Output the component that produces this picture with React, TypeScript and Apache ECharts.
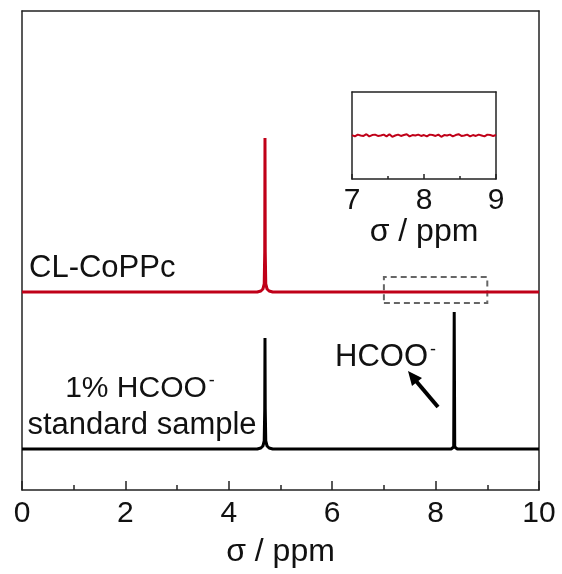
import React, { useEffect, useRef } from "react";
import * as echarts from "echarts";

// ---- data ----
// main spectra: chemical shift (ppm) and intensity (a.u., relative to own baseline)
const redShift = [0, 4.55, 4.62, 4.66, 4.685, 4.695, 4.7, 4.705, 4.715, 4.74, 4.78, 4.85, 10];
const redIntensity = [0, 0, 1, 3, 8, 40, 154, 40, 8, 3, 1, 0, 0];
const blackShift = [0, 4.55, 4.62, 4.66, 4.685, 4.695, 4.7, 4.705, 4.715, 4.74, 4.78, 4.85, 8.3, 8.35, 8.36, 8.37, 8.42, 10];
const blackIntensity = [0, 0, 1, 3, 8, 40, 111, 40, 8, 3, 1, 0, 0, 2, 137, 2, 0, 0];
const redOffset = 157;
const blackOffset = 0;
// inset (7-9 ppm) of red spectrum
const insetShift = [7.0, 7.04, 7.08, 7.12, 7.16, 7.2, 7.24, 7.28, 7.32, 7.36, 7.4, 7.44, 7.48, 7.52, 7.56, 7.6, 7.64, 7.68, 7.72, 7.76, 7.8, 7.84, 7.88, 7.92, 7.96, 8.0, 8.04, 8.08, 8.12, 8.16, 8.2, 8.24, 8.28, 8.32, 8.36, 8.4, 8.44, 8.48, 8.52, 8.56, 8.6, 8.64, 8.68, 8.72, 8.76, 8.8, 8.84, 8.88, 8.92, 8.96, 9.0];
const insetNoise = [0.01, -0.02, 0.02, 0.0, -0.01, 0.03, -0.02, 0.01, 0.02, -0.01, 0.0, 0.02, -0.02, 0.03, -0.03, 0.0, 0.02, -0.01, 0.01, 0.03, -0.02, 0.01, 0.0, 0.02, -0.01, 0.01, -0.02, 0.02, 0.01, -0.01, 0.02, -0.03, 0.01, 0.0, 0.02, -0.02, 0.01, 0.03, -0.01, 0.0, 0.02, -0.02, 0.01, -0.01, 0.02, 0.0, -0.02, 0.02, 0.01, -0.01, 0.01];
const mainTicks = { min: 0, max: 10, interval: 2 };
const insetTicks = { min: 7, max: 9, interval: 1 };
const axisTitle = "σ / ppm";

const FONT = "'Liberation Sans', Arial, sans-serif";
const RED = "#c00018";
const AX = "#222";

export default function App() {
  const ref = useRef<HTMLDivElement>(null);
  useEffect(() => {
    if (!ref.current) return;
    const chart = echarts.init(ref.current, null, { renderer: "svg" });
    const redData = redShift.map((x, i) => [x, redIntensity[i] + redOffset]);
    const blackData = blackShift.map((x, i) => [x, blackIntensity[i] + blackOffset]);
    const insetData = insetShift.map((x, i) => [x, insetNoise[i]]);
    const axLine = { show: true, onZero: false, lineStyle: { color: AX, width: 1.5 } };
    const hidden = {
      axisTick: { show: false },
      axisLabel: { show: false },
      splitLine: { show: false },
    };
    const option: any = {
      animation: false,
      grid: [
        { left: 22, right: 23, top: 11, bottom: 84 },
        { left: 352, top: 92, width: 144, height: 87 },
      ],
      xAxis: [
        {
          gridIndex: 0,
          type: "value",
          ...mainTicks,
          position: "bottom",
          axisLine: axLine,
          axisTick: { inside: true, length: 9, lineStyle: { color: AX, width: 1.5 } },
          minorTick: { show: true, splitNumber: 2, length: 5, lineStyle: { color: AX, width: 1.5 } },
          splitLine: { show: false },
          minorSplitLine: { show: false },
          axisLabel: { fontSize: 30, color: "#111", margin: 6, fontFamily: FONT },
          name: axisTitle,
          nameLocation: "middle",
          nameGap: 44,
          nameTextStyle: { fontSize: 32, color: "#111", fontFamily: FONT },
        },
        { gridIndex: 0, type: "value", ...mainTicks, position: "top", axisLine: axLine, ...hidden },
        {
          gridIndex: 1,
          type: "value",
          ...insetTicks,
          position: "bottom",
          axisLine: axLine,
          axisTick: { inside: true, length: 5, lineStyle: { color: AX, width: 1.5 } },
          minorTick: { show: true, splitNumber: 2, length: 3, lineStyle: { color: AX, width: 1.5 } },
          splitLine: { show: false },
          minorSplitLine: { show: false },
          axisLabel: { fontSize: 30, color: "#111", margin: 4, fontFamily: FONT },
          name: axisTitle,
          nameLocation: "middle",
          nameGap: 34,
          nameTextStyle: { fontSize: 32, color: "#111", fontFamily: FONT },
        },
        { gridIndex: 1, type: "value", ...insetTicks, position: "top", axisLine: axLine, ...hidden },
      ],
      yAxis: [
        { gridIndex: 0, type: "value", min: -41, max: 438, position: "left", axisLine: axLine, ...hidden },
        { gridIndex: 0, type: "value", min: -41, max: 438, position: "right", axisLine: axLine, ...hidden },
        { gridIndex: 1, type: "value", min: -1, max: 1, position: "left", axisLine: axLine, ...hidden },
        { gridIndex: 1, type: "value", min: -1, max: 1, position: "right", axisLine: axLine, ...hidden },
      ],
      series: [
        {
          type: "line",
          xAxisIndex: 0,
          yAxisIndex: 0,
          data: redData,
          showSymbol: false,
          lineStyle: { color: RED, width: 3 },
          markArea: {
            silent: true,
            itemStyle: { color: "rgba(0,0,0,0)", borderColor: "#666", borderWidth: 2, borderType: [6, 4] },
            data: [[{ xAxis: 7, yAxis: 146 }, { xAxis: 9, yAxis: 172 }]],
          },
        },
        {
          type: "line",
          xAxisIndex: 0,
          yAxisIndex: 0,
          data: blackData,
          showSymbol: false,
          lineStyle: { color: "#000", width: 3 },
        },
        {
          type: "line",
          xAxisIndex: 2,
          yAxisIndex: 2,
          data: insetData,
          showSymbol: false,
          lineStyle: { color: RED, width: 2 },
        },
      ],
      graphic: [
        {
          type: "text",
          x: 29,
          y: 266,
          style: { text: "CL-CoPPc", fontSize: 31, fontFamily: FONT, fill: "#111", verticalAlign: "middle", align: "left" },
        },
        {
          type: "text",
          x: 140,
          y: 386,
          style: {
            text: "{b|1% HCOO}{s|-}",
            align: "center",
            verticalAlign: "middle",
            rich: {
              b: { fontSize: 30, fontFamily: FONT, fill: "#111", color: "#111" },
              s: { fontSize: 18, fontFamily: FONT, fill: "#111", color: "#111", verticalAlign: "top", padding: [0, 0, 0, 2] },
            },
          },
        },
        {
          type: "text",
          x: 142,
          y: 423,
          style: { text: "standard sample", fontSize: 31, fontFamily: FONT, fill: "#111", verticalAlign: "middle", align: "center" },
        },
        {
          type: "text",
          x: 335,
          y: 355,
          style: {
            text: "{b|HCOO}{s|-}",
            align: "left",
            verticalAlign: "middle",
            rich: {
              b: { fontSize: 31, fontFamily: FONT, fill: "#111", color: "#111" },
              s: { fontSize: 18, fontFamily: FONT, fill: "#111", color: "#111", verticalAlign: "top", padding: [0, 0, 0, 2] },
            },
          },
        },
        {
          type: "line",
          shape: { x1: 438, y1: 407, x2: 416, y2: 381 },
          style: { stroke: "#000", lineWidth: 4 },
        },
        {
          type: "polygon",
          shape: { points: [[408, 371], [422, 378], [412, 386]] },
          style: { fill: "#000" },
        },
      ],
    };
    chart.setOption(option);
    return () => chart.dispose();
  }, []);
  return <div ref={ref} style={{ position: "fixed", left: 0, top: 0, width: 562, height: 574 }} />;
}
